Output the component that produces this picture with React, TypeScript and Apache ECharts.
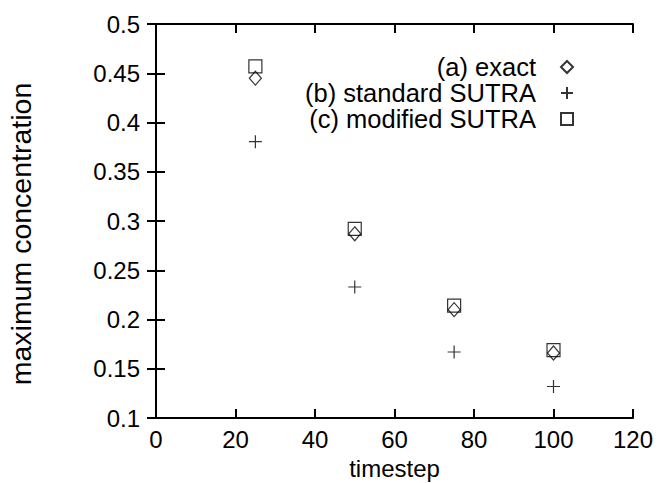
import React, { useEffect, useRef } from "react";
import * as echarts from "echarts";

const timesteps = [25, 50, 75, 100];
const exactValues = [0.445, 0.287, 0.21, 0.166];
const standardValues = [0.3805, 0.233, 0.167, 0.132];
const modifiedValues = [0.457, 0.292, 0.214, 0.169];
const seriesNames = ["(a) exact", "(b) standard SUTRA", "(c) modified SUTRA"];

const FONT = "Liberation Sans, Arial, Helvetica, sans-serif";
const PLUS = "path://M0,5L10,5M5,0L5,10";
const SQUARE = "path://M0,0L10,0L10,10L0,10Z";

export default function App() {
  const ref = useRef<HTMLDivElement>(null);
  useEffect(() => {
    if (!ref.current) return;
    const chart = echarts.init(ref.current, undefined, { renderer: "svg" });
    const axisLine = { show: true, lineStyle: { color: "#000", width: 2 } };
    const tick = { show: true, inside: true, length: 9, lineStyle: { color: "#000", width: 2 } };
    const pairs = (vals: number[]) => timesteps.map((t, i) => [t, vals[i]]);
    chart.setOption({
      animation: false,
      backgroundColor: "#fff",
      grid: { left: 156, right: 35, top: 24, bottom: 65, containLabel: false, outerBoundsMode: "none" },
      legend: {
        orient: "vertical",
        right: 89,
        top: 49,
        align: "right",
        itemWidth: 12,
        itemHeight: 12,
        itemGap: 0,
        selectedMode: false,
        textStyle: { fontFamily: FONT, fontSize: 25.5, color: "#000", lineHeight: 25, padding: [0, 20, 0, 0] },
        data: seriesNames,
      },
      xAxis: [
        {
          type: "value",
          min: 0,
          max: 120,
          interval: 20,
          name: "timestep",
          nameLocation: "middle",
          nameMoveOverlap: false,
          nameGap: 38,
          nameTextStyle: { fontFamily: FONT, fontSize: 24, color: "#000" },
          axisLine,
          axisTick: tick,
          splitLine: { show: false },
          axisLabel: { fontFamily: FONT, fontSize: 24, color: "#000", margin: 9 },
        },
        {
          type: "value",
          position: "top",
          min: 0,
          max: 120,
          interval: 20,
          axisLine,
          axisTick: tick,
          splitLine: { show: false },
          axisLabel: { show: false },
        },
      ],
      yAxis: [
        {
          type: "value",
          min: 0.1,
          max: 0.5,
          interval: 0.05,
          name: "maximum concentration",
          nameLocation: "middle",
          nameGap: 121,
          nameTextStyle: { fontFamily: FONT, fontSize: 28.5, color: "#000", padding: [0, 26, 0, 0] },
          axisLine,
          axisTick: tick,
          splitLine: { show: false },
          axisLabel: {
            fontFamily: FONT,
            fontSize: 24,
            color: "#000",
            margin: 16,
            formatter: (v: number) => String(parseFloat(v.toFixed(2))),
          },
        },
        {
          type: "value",
          position: "right",
          min: 0.1,
          max: 0.5,
          interval: 0.05,
          axisLine,
          axisTick: tick,
          splitLine: { show: false },
          axisLabel: { show: false },
        },
      ],
      series: [
        {
          name: seriesNames[0],
          type: "scatter",
          data: pairs(exactValues),
          symbol: "diamond",
          symbolSize: [12, 14],
          itemStyle: { color: "rgba(0,0,0,0)", borderColor: "#000", borderWidth: 1.2 },
          z: 3,
        },
        {
          name: seriesNames[1],
          type: "scatter",
          data: pairs(standardValues),
          symbol: PLUS,
          symbolSize: 13,
          itemStyle: { color: "rgba(0,0,0,0)", borderColor: "#000", borderWidth: 1.2 },
          z: 3,
        },
        {
          name: seriesNames[2],
          type: "scatter",
          data: pairs(modifiedValues),
          symbol: SQUARE,
          symbolSize: 13,
          itemStyle: { color: "rgba(0,0,0,0)", borderColor: "#000", borderWidth: 1.2 },
          z: 3,
        },
      ],
    });
    return () => chart.dispose();
  }, []);
  return <div ref={ref} style={{ width: 668, height: 483, position: "absolute", left: 0, top: 0 }} />;
}
